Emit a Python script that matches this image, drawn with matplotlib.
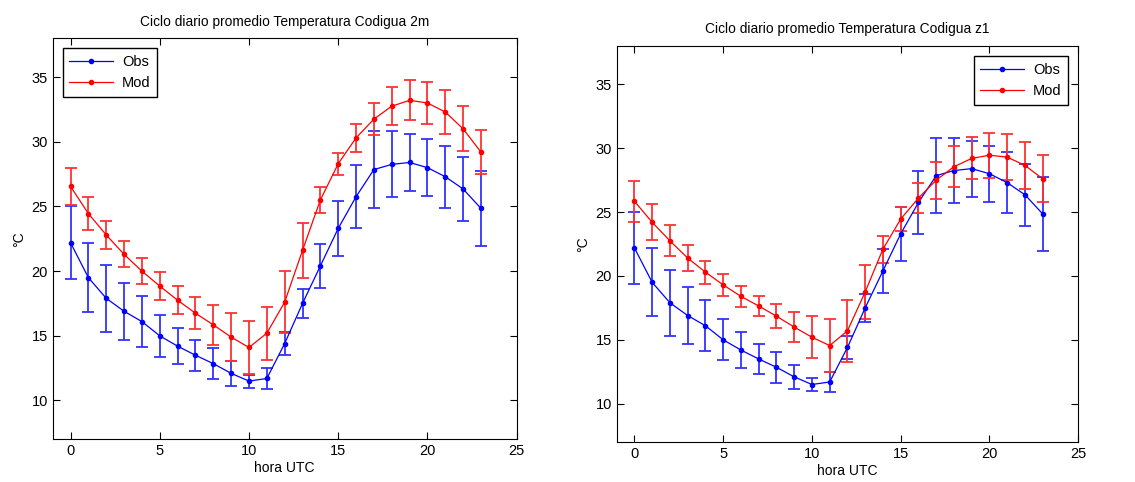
import numpy as np
import matplotlib
matplotlib.use("Agg")
import matplotlib.pyplot as plt
from matplotlib.lines import Line2D

plt.rcParams['font.family'] = ['Liberation Sans', 'DejaVu Sans']

# hours
hours = np.arange(24)

# observed mean and spread (same for both panels)
obs = [22.2, 19.5, 17.9, 16.9, 16.1, 15.0, 14.2, 13.5, 12.85, 12.1, 11.5, 11.7,
       14.4, 17.5, 20.4, 23.3, 25.75, 27.85, 28.25, 28.4, 28.0, 27.3, 26.35, 24.85]
obs_err = [2.8, 2.65, 2.6, 2.2, 2.0, 1.6, 1.4, 1.2, 1.2, 0.95, 0.5, 0.8,
           0.9, 1.1, 1.7, 2.1, 2.45, 2.95, 2.55, 2.2, 2.2, 2.4, 2.45, 2.9]

# model at 2m
mod_2m = [26.55, 24.45, 22.8, 21.3, 20.0, 18.85, 17.75, 16.75, 15.85, 14.9, 14.1, 15.2,
          17.6, 21.6, 25.5, 28.3, 30.3, 31.75, 32.75, 33.2, 33.0, 32.3, 31.0, 29.2]
mod_2m_err = [1.45, 1.3, 1.1, 1.0, 1.0, 1.05, 1.1, 1.25, 1.55, 1.85, 2.05, 2.05,
              2.4, 2.1, 1.0, 0.85, 1.1, 1.25, 1.45, 1.55, 1.6, 1.7, 1.75, 1.7]

# model at z1
mod_z1 = [25.85, 24.2, 22.75, 21.4, 20.3, 19.3, 18.4, 17.65, 16.85, 16.0, 15.2, 14.55,
          15.7, 18.75, 22.1, 24.45, 26.1, 27.5, 28.55, 29.2, 29.45, 29.3, 28.65, 27.6]
mod_z1_err = [1.6, 1.4, 1.2, 1.0, 0.9, 0.85, 0.8, 0.8, 0.95, 1.2, 1.65, 2.1,
              2.45, 2.1, 1.05, 0.95, 1.2, 1.45, 1.6, 1.65, 1.75, 1.8, 1.85, 1.85]

titles = ["Ciclo diario promedio Temperatura Codigua 2m",
          "Ciclo diario promedio Temperatura Codigua z1"]

fig = plt.figure(figsize=(11.35, 4.82), dpi=100)
ax1 = fig.add_axes([0.0464, 0.0886, 0.4088, 0.832])
ax2 = fig.add_axes([0.5433, 0.083, 0.4067, 0.8216])

panels = [(ax1, mod_2m, mod_2m_err, 'upper left'),
          (ax2, mod_z1, mod_z1_err, 'upper right')]

for i, (ax, mod, mod_err, loc) in enumerate(panels):
    ax.errorbar(hours, obs, yerr=obs_err, fmt='.-', color='#0000ff', ecolor='#3333ff',
                lw=0.9, elinewidth=1.3, capsize=4.5, capthick=1.3, ms=6)
    ax.errorbar(hours, mod, yerr=mod_err, fmt='.-', color='#ff0000', ecolor='#ff3333',
                lw=0.9, elinewidth=1.3, capsize=4.5, capthick=1.3, ms=6)
    ax.set_xlim(-1, 25)
    ax.set_ylim(7, 38)
    ax.set_xticks([0, 5, 10, 15, 20, 25])
    ax.set_yticks([10, 15, 20, 25, 30, 35])
    ax.tick_params(direction='in', top=True, right=True, length=5, labelsize=10.5)
    ax.set_title(titles[i], fontsize=9.9, pad=9)
    ax.set_xlabel('hora UTC', fontsize=10, labelpad=2)
    ax.set_ylabel('°C', fontsize=10, labelpad=4)
    handles = [Line2D([], [], color='#0000ff', marker='.', ms=6, lw=0.9),
               Line2D([], [], color='#ff0000', marker='.', ms=6, lw=0.9)]
    leg = ax.legend(handles, ['Obs', 'Mod'], loc=loc, fontsize=10.5, fancybox=False,
                    framealpha=1, edgecolor='black', handlelength=3.0,
                    borderaxespad=0.7, borderpad=0.45, handletextpad=0.6)
    leg.get_frame().set_linewidth(1.0)

fig.savefig('out.png', dpi=100)
